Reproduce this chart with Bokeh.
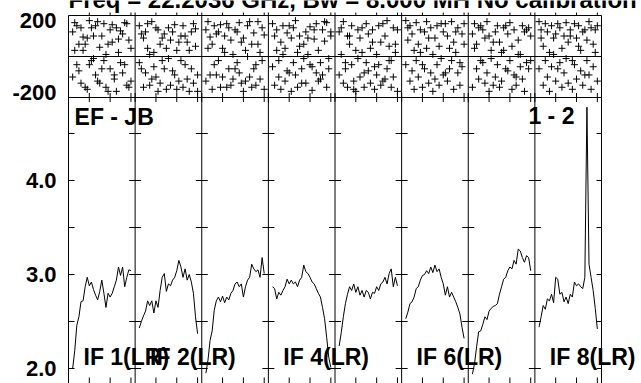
from math import pi
from bokeh.plotting import figure
from bokeh.models import Range1d, FixedTicker, Label, PrintfTickFormatter
from bokeh.embed import file_html
from bokeh.resources import INLINE

# ---------------- data ----------------
N_IF = 8
CH_PER_IF = 32
channels = list(range(2, 31))          # channels plotted in every IF
chan_ticks = [10, 20, 30]              # channel tick marks in every IF

amp_if1 = [2.00, 2.19, 2.46, 2.55, 2.71, 2.72, 2.87, 2.97, 2.88, 2.92, 2.84, 2.78, 2.73, 2.82, 2.94,
           2.80, 2.65, 2.80, 2.76, 2.80, 2.87, 2.94, 3.08, 2.99, 3.08, 2.87, 2.97, 3.05, 3.04]
amp_if2 = [2.43, 2.50, 2.56, 2.61, 2.72, 2.67, 2.72, 2.59, 2.72, 2.65, 2.83, 2.97, 3.01, 2.82, 2.90,
           2.88, 2.94, 2.97, 3.04, 3.15, 3.08, 2.97, 3.06, 2.94, 3.00, 2.92, 2.80, 2.55, 2.37]
amp_if3 = [1.95, 2.09, 2.30, 2.40, 2.62, 2.72, 2.76, 2.71, 2.77, 2.70, 2.76, 2.73, 2.80, 2.83, 2.90,
           2.92, 2.87, 2.90, 2.76, 2.87, 2.94, 2.97, 3.11, 3.06, 3.03, 3.05, 2.97, 3.18, 3.01]
amp_if4 = [2.87, 2.85, 2.74, 2.81, 2.78, 2.83, 2.87, 2.95, 2.90, 2.94, 2.90, 2.92, 2.87, 2.94, 2.97,
           3.10, 3.03, 3.01, 2.97, 2.92, 2.90, 2.85, 2.80, 2.76, 2.65, 2.53, 2.33, 2.12, 2.01]
amp_if5 = [2.24, 2.38, 2.55, 2.69, 2.79, 2.87, 2.83, 2.90, 2.81, 2.87, 2.78, 2.83, 2.76, 2.83, 2.81,
           2.74, 2.81, 2.80, 2.87, 2.83, 2.90, 2.92, 2.97, 2.90, 3.01, 3.06, 2.87, 2.97, 2.88]
amp_if6 = [2.53, 2.60, 2.69, 2.71, 2.76, 2.85, 2.87, 2.94, 2.99, 3.00, 3.04, 3.01, 3.08, 3.02, 3.10,
           3.03, 3.06, 2.97, 2.90, 2.78, 2.87, 2.76, 2.81, 2.76, 2.71, 2.65, 2.58, 2.44, 2.32]
amp_if7 = [1.94, 2.05, 2.23, 2.39, 2.40, 2.47, 2.55, 2.52, 2.61, 2.64, 2.66, 2.67, 2.69, 2.79, 2.87,
           2.95, 2.97, 3.04, 3.08, 3.06, 3.15, 3.11, 3.27, 3.25, 3.18, 3.13, 3.20, 3.18, 3.04]
amp_if8 = [2.44, 2.55, 2.67, 2.63, 2.74, 2.72, 2.79, 2.70, 2.97, 2.95, 2.79, 2.81, 2.71, 2.76, 2.69,
           2.79, 2.76, 2.92, 2.88, 2.90, 2.87, 2.85, 2.97, 4.78, 3.11, 2.97, 2.83, 2.64, 2.42]
amplitudes = [amp_if1, amp_if2, amp_if3, amp_if4, amp_if5, amp_if6, amp_if7, amp_if8]

phase_a_if1 = [120, 165, -40, 60, 140, 30, -150, 90, 175, -20, 100, 150, -120, 45, -60, 160, 10, -170, 130, 70, -90, 140, 20, -30, 110, 165, -140, 80, 40]
phase_b_if1 = [-100, 30, 150, -70, -130, 95, 60, -160, -40, 140, -10, -90, 170, -130, 100, -20, -150, 60, -60, 155, -110, -170, 85, 125, -80, -40, 160, -150, -120]
phase_a_if2 = [150, -60, 90, 120, 40, -140, 170, 20, -100, 130, 60, -20, 110, -160, 140, 80, -70, 155, 30, -120, 100, 150, -40, 70, -170, 120, 160, 50, -90]
phase_b_if2 = [-30, 110, -150, -80, 160, 10, -110, -50, 140, -170, -130, 90, -60, 40, -10, -140, 120, -90, -160, 70, -20, -150, 100, -110, 30, -60, -130, 135, -170]
phase_a_if3 = [130, 170, -90, 60, 150, 110, -20, 155, 40, 100, -150, 140, 80, 10, -60, 120, 165, -130, 90, 30, 150, -100, 60, 115, -40, 170, 20, 140, 105]
phase_b_if3 = [-120, 40, 95, -160, -40, -90, 120, -150, -100, 20, 160, -60, -140, -110, 130, -30, -80, 70, -170, -120, 0, 170, -150, -60, -140, 60, -110, -20, -160]
phase_a_if4 = [160, 100, 130, -20, 70, 150, 40, 115, -80, 90, 140, 175, 20, 100, -130, 60, 120, 10, 145, -50, 85, 160, 30, -110, 130, 75, 165, -10, 120]
phase_b_if4 = [-50, -140, 30, -100, -160, 10, -120, -70, 150, -170, -30, -90, -150, 50, -60, -10, -130, 90, -40, -165, 130, -80, -120, -30, -90, 170, -150, -60, 100]
phase_a_if5 = [120, 140, 170, -30, 100, 60, 150, -160, 30, 130, 90, 20, -80, 160, 110, 40, 130, -50, 10, 150, 70, -120, 100, 175, 50, -20, 140, 60, 130]
phase_b_if5 = [-90, 10, -130, -60, -150, 100, -40, -120, -170, -10, -100, 140, -150, -30, -70, -130, 70, -160, -90, -40, -140, 160, -110, -60, -20, -150, -100, 20, -170]
phase_a_if6 = [175, 80, 150, 110, 30, 165, 60, 130, -40, 120, 170, 90, 140, 10, -110, 150, 50, 160, 120, -80, 100, 40, 170, 70, 20, 140, -30, 110, 160]
phase_b_if6 = [-40, 140, -120, -70, -160, -20, -100, 20, -150, -60, 40, -130, -80, -170, 90, -40, -140, -10, -90, 160, -120, -60, -20, -160, 120, -80, -140, -50, 60]
phase_a_if7 = [110, 160, 60, 140, -20, 130, 90, 170, 100, 30, -140, 120, 150, 70, 20, 140, -60, 110, 165, 50, 130, -100, 80, 10, 150, 120, -30, 140, 100]
phase_b_if7 = [-150, 40, -60, -110, 150, -30, -130, -80, -170, -10, 70, -100, -40, -150, -120, 30, 150, -70, -20, -160, -90, -140, 10, -50, -110, -170, 130, -60, -20]
phase_a_if8 = [170, 130, 50, 160, 120, 20, 150, 90, 110, -60, 140, 40, 100, 165, 70, 130, -20, 160, 90, 150, 30, 120, -90, 80, 170, 140, 60, 130, 150]
phase_b_if8 = [-60, 90, -140, -20, -100, -170, -50, 10, -120, 160, -30, -150, -80, -10, -130, 100, -160, -40, -110, 50, -70, -140, 130, -20, -90, -160, -50, 20, -120]
phases = [phase_a_if1, phase_b_if1, phase_a_if2, phase_b_if2, phase_a_if3, phase_b_if3,
          phase_a_if4, phase_b_if4, phase_a_if5, phase_b_if5, phase_a_if6, phase_b_if6,
          phase_a_if7, phase_b_if7, phase_a_if8, phase_b_if8]

if_labels = {1: "IF 1(LR)", 2: "IF 2(LR)", 4: "IF 4(LR)", 6: "IF 6(LR)", 8: "IF 8(LR)"}
amp_major = [2.0, 3.0, 4.0]
amp_minor = [2.5, 3.5, 4.5]
phase_limits = [-200, 200]
title_text = "Freq = 22.2036 GHz, Bw = 8.000 MH  No calibration"
baseline_text = "EF - JB"
stokes_text = "1 - 2"

# ---------------- geometry / styling ----------------
FONT = "Liberation Sans"
W, H = 641, 383
LEFT = 67                     # frame starts 1px left of the first panel edge
XMAX = N_IF * CH_PER_IF
PX_PER_X = 533.0 / XMAX       # panels span 533 px
X0 = -1.0 / PX_PER_X
X1 = X0 + (W - LEFT) / PX_PER_X

PX_PER_AMP = 94.0
AMP_LOW = 2.0 - 15 / PX_PER_AMP          # canvas bottom (2.0 sits 15 px above it)


def amp_at(py):                            # amplitude value at a canvas pixel row
    return AMP_LOW + (H - py) / PX_PER_AMP


AMP_TOP = amp_at(0)
PANEL_TOP = amp_at(15)                     # top edge of the phase strip
AMP_SPLIT = amp_at(97)                     # boundary between phase and amplitude strips
PH_PER_PX = (phase_limits[1] - phase_limits[0]) / (97 - 15)
PH_TOP = phase_limits[1] + 15 * PH_PER_PX
PH_LOW = phase_limits[0] - (H - 97) * PH_PER_PX

LBL_TOP = round(amp_at(20), 3)             # where the "200" / "-200" labels sit
LBL_BOT = round(amp_at(92), 3)
TXT_SHIFT = 9                              # label anchor sits this far above the glyph baseline

p = figure(width=W, height=H, x_range=Range1d(X0, X1), y_range=Range1d(AMP_LOW, AMP_TOP),
           output_backend="svg", toolbar_location=None,
           min_border_left=LEFT, min_border_right=0, min_border_top=0, min_border_bottom=0,
           x_axis_location=None)
p.extra_y_ranges = {"phase": Range1d(PH_LOW, PH_TOP)}
p.grid.visible = False
p.outline_line_color = None

# y axis (amplitude ticks plus the phase-strip limits)
ax = p.yaxis[0]
ax.axis_line_color = None
ax.major_tick_line_color = None
ax.minor_tick_line_color = None
ax.major_label_text_font = FONT
ax.major_label_text_font_style = "bold"
ax.major_label_text_font_size = "22px"
ax.major_label_text_color = "black"
ax.major_label_standoff = 5
ax.ticker = FixedTicker(ticks=amp_major + [LBL_BOT, LBL_TOP])
ax.formatter = PrintfTickFormatter(format="%.1f")
ax.major_label_overrides = {LBL_BOT: str(phase_limits[0]), LBL_TOP: str(phase_limits[1])}

boundaries = [k * CH_PER_IF for k in range(N_IF + 1)]
xtick_pos = [(i * CH_PER_IF) + t for i in range(N_IF) for t in chan_ticks]
LINE = dict(line_color="black", line_width=1)

# frame lines: panel separators, top edge, strip boundary, phase zero line
p.segment(x0=boundaries, y0=[AMP_LOW] * len(boundaries), x1=boundaries,
          y1=[PANEL_TOP] * len(boundaries), **LINE)
p.segment(x0=[0, 0], y0=[PANEL_TOP, AMP_SPLIT], x1=[XMAX, XMAX], y1=[PANEL_TOP, AMP_SPLIT], **LINE)
p.segment(x0=[0], y0=[0], x1=[XMAX], y1=[0], y_range_name="phase", **LINE)

# tick marks
ytick_vals = sorted(amp_major + amp_minor)
inner = boundaries[1:-1]
p.scatter([b for b in inner for _ in ytick_vals], [v for _ in inner for v in ytick_vals],
          marker="dash", size=12, **LINE)
p.ray(x=[0] * len(ytick_vals), y=ytick_vals, length=6, angle=0, length_units="screen", **LINE)
p.ray(x=[XMAX] * len(ytick_vals), y=ytick_vals, length=5, angle=pi, length_units="screen", **LINE)
p.ray(x=xtick_pos, y=[AMP_LOW] * len(xtick_pos), length=6, angle=pi / 2,
      length_units="screen", **LINE)
p.ray(x=xtick_pos + inner, y=[PANEL_TOP] * (len(xtick_pos) + len(inner)), length=3,
      angle=pi / 2, length_units="screen", **LINE)
p.scatter(xtick_pos + inner, [AMP_SPLIT] * (len(xtick_pos) + len(inner)), marker="dash",
          angle=pi / 2, size=9, **LINE)

# phase crosses
for i in range(N_IF):
    xs = [i * CH_PER_IF + c for c in channels]
    for ph in (phases[2 * i], phases[2 * i + 1]):
        p.scatter(xs, ph, y_range_name="phase", marker="cross", size=7, **LINE)

# amplitude spectra
for i in range(N_IF):
    xs = [i * CH_PER_IF + c for c in channels]
    p.line(xs, amplitudes[i], **LINE)

# texts
TXT = dict(text_font=FONT, text_font_style="bold", text_color="black",
           text_baseline="alphabetic")
p.add_layout(Label(x=0, y=amp_at(8 - TXT_SHIFT), text=title_text, text_font_size="24px",
                   text_align="left", **TXT))
for n, txt in if_labels.items():
    p.add_layout(Label(x=(n - 1) * CH_PER_IF + 7.2, y=amp_at(365 - TXT_SHIFT), text=txt,
                       text_font_size="23px", text_align="left", **TXT))
p.add_layout(Label(x=2.9, y=amp_at(125 - TXT_SHIFT), text=baseline_text, text_font_size="23px",
                   text_align="left", **TXT))
p.add_layout(Label(x=243.0, y=amp_at(124 - TXT_SHIFT), text=stokes_text, text_font_size="23px",
                   text_align="right", **TXT))

html = file_html(p, INLINE, title="POSSM")
html = html.replace("</head>", "<style>body{margin:0;padding:0}</style></head>", 1)
open("out.html", "w").write(html)
